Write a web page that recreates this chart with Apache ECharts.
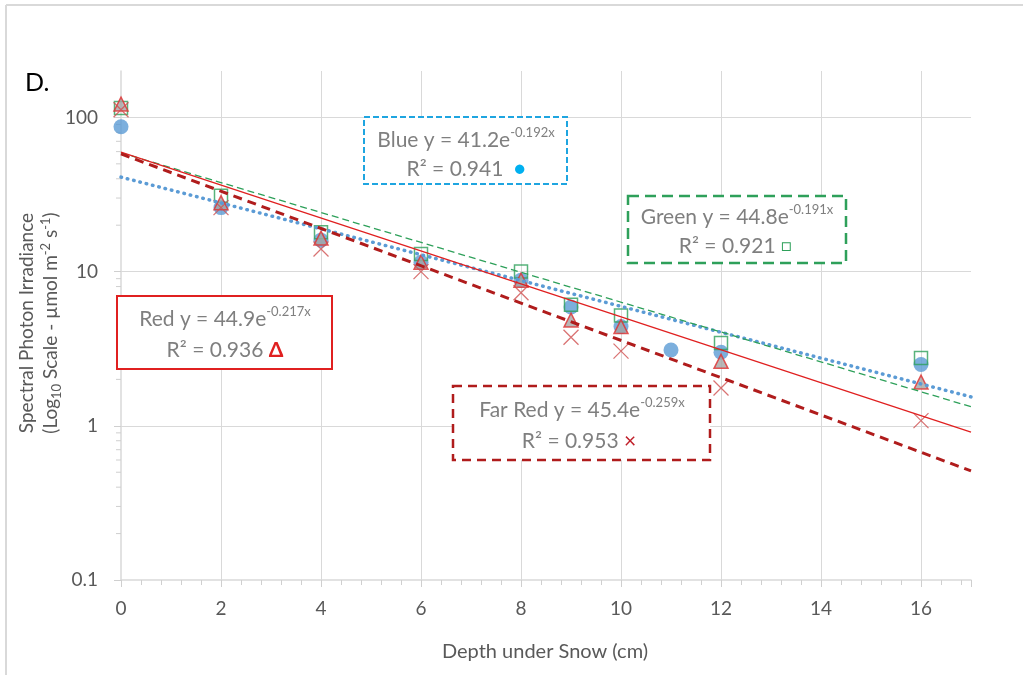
<!DOCTYPE html>
<html>
<head>
<meta charset="utf-8">
<script src="https://cdn.jsdelivr.net/npm/echarts@6/dist/echarts.min.js"></script>
<style>
  html, body { margin: 0; padding: 0; background: #fff; }
  #chart { width: 1023px; height: 675px; }
</style>
</head>
<body>
<div id="chart"></div>
<script>
// depth under snow (cm)
const depthBlue = [0, 2, 4, 6, 8, 9, 10, 11, 12, 16];
const blueVals = [87, 26, 16, 11.5, 8.8, 5.9, 4.4, 3.1, 3.0, 2.5];

const depth = [0, 2, 4, 6, 8, 9, 10, 12, 16];
const greenVals = [115, 31, 18, 13, 10, 6.1, 5.2, 3.45, 2.75];
const redVals = [122, 28, 16.5, 11.5, 8.8, 4.85, 4.4, 2.62, 1.92];
const farRedVals = [112, 26, 14, 10, 7.3, 3.75, 3.05, 1.76, 1.08];

// trendline end points as drawn
const blueTrend = [[0, 41], [17, 1.54]];
const greenTrend = [[0, 59], [17, 1.33]];
const redTrend = [[0, 59.5], [17, 0.91]];
const farRedTrend = [[0, 58], [17, 0.51]];

const yMinorTicks = [0.2, 0.3, 0.4, 0.5, 0.6, 0.7, 0.8, 0.9,
  2, 3, 4, 5, 6, 7, 8, 9, 20, 30, 40, 50, 60, 70, 80, 90];

const FONT = 'Lato, "Open Sans", sans-serif';
const GRAY = '#595959';
const GRID = '#d9d9d9';

const pairs = (xs, ys) => xs.map((x, i) => [x, ys[i]]);

const chart = echarts.init(document.getElementById('chart'));

const supRich = {
  n: { fontSize: 21, fill: '#7f7f7f', fontFamily: FONT, lineHeight: 28 },
  sup: { fontSize: 13, fill: '#7f7f7f', fontFamily: FONT, lineHeight: 13, verticalAlign: 'top' },
  dotB: { fontSize: 19, fill: '#00b0f0', fontFamily: FONT, lineHeight: 28 },
  sqG: { fontSize: 17, fill: '#2ea05a', fontFamily: FONT, lineHeight: 28 },
  triR: { fontSize: 21, fill: '#e02020', fontFamily: FONT, fontWeight: 'bold', lineHeight: 28 },
  xR: { fontSize: 21, fill: '#c0202a', fontFamily: FONT, lineHeight: 28 },
};

function label(x, y, text) {
  return {
    type: 'text', x: x, y: y, z: 10,
    style: { text: text, rich: supRich, align: 'center', verticalAlign: 'middle' },
  };
}

function box(x, y, w, h, color, width, dash) {
  return {
    type: 'rect', z: 9,
    shape: { x: x, y: y, width: w, height: h },
    style: { fill: '#fff', stroke: color, lineWidth: width, lineDash: dash },
  };
}

chart.setOption({
  animation: false,
  textStyle: { fontFamily: FONT },
  grid: { left: 121, right: 52, top: 71, bottom: 95 },
  xAxis: {
    type: 'value',
    min: 0,
    max: 17,
    interval: 2,
    axisLine: { lineStyle: { color: GRID, width: 1.5 } },
    axisTick: { length: 7, lineStyle: { color: '#cfcfcf' } },
    minorTick: { show: true, splitNumber: 5, length: 5, lineStyle: { color: '#cfcfcf' } },
    splitLine: { show: true, showMinLine: false, showMaxLine: false, lineStyle: { color: GRID } },
    axisLabel: { color: GRAY, fontSize: 19, margin: 19, showMaxLabel: false },
  },
  yAxis: {
    type: 'log',
    logBase: 10,
    min: 0.1,
    max: 200,
    axisLine: { show: true, lineStyle: { color: GRID, width: 1.5 } },
    axisTick: { show: true, length: 7, lineStyle: { color: '#cfcfcf' } },
    splitLine: { show: true, showMinLine: false, showMaxLine: false, lineStyle: { color: GRID } },
    axisLabel: { color: GRAY, fontSize: 19, margin: 23, showMaxLabel: false },
  },
  graphic: [
    // panel frame
    { type: 'line', shape: { x1: 6, y1: 5, x2: 1023, y2: 5 }, style: { stroke: GRID, lineWidth: 2 } },
    { type: 'line', shape: { x1: 6, y1: 5, x2: 6, y2: 675 }, style: { stroke: GRID, lineWidth: 2 } },
    { type: 'text', x: 25, y: 83, style: { text: 'D.', fontSize: 25, fill: '#000', fontFamily: FONT, verticalAlign: 'middle' } },
    {
      type: 'text', x: 545, y: 652,
      style: { text: 'Depth under Snow (cm)', fontSize: 20, fill: GRAY, fontFamily: FONT, align: 'center', verticalAlign: 'middle' },
    },
    {
      type: 'text', x: 27, y: 323, rotation: Math.PI / 2,
      style: { text: 'Spectral Photon Irradiance', fontSize: 19, fill: GRAY, fontFamily: FONT, align: 'center', verticalAlign: 'middle' },
    },
    {
      type: 'text', x: 51, y: 323, rotation: Math.PI / 2,
      style: {
        text: '{n|(Log}{sub|10}{n| Scale - µmol m}{sup|-2}{n| s}{sup|-1}{n|)}',
        align: 'center', verticalAlign: 'middle',
        rich: {
          n: { fontSize: 19, fill: GRAY, fontFamily: FONT, lineHeight: 24 },
          sub: { fontSize: 13, fill: GRAY, fontFamily: FONT, lineHeight: 13, verticalAlign: 'bottom' },
          sup: { fontSize: 13, fill: GRAY, fontFamily: FONT, lineHeight: 13, verticalAlign: 'top' },
        },
      },
    },
    box(364, 117, 203, 67, '#1fa5e0', 2, [6, 3]),
    label(466, 140, '{n|Blue y = 41.2e}{sup|-0.192x}'),
    label(466, 169, '{n|R² = 0.941  }{dotB|●}'),
    box(628, 196, 218, 67, '#2ea05a', 2.5, [11, 6]),
    label(737, 217, '{n|Green y = 44.8e}{sup|-0.191x}'),
    label(735, 246, '{n|R² = 0.921 }{sqG|□}'),
    box(117, 296, 215, 73, '#e02020', 2, null),
    label(225, 319, '{n|Red y = 44.9e}{sup|-0.217x}'),
    label(225, 350, '{n|R² = 0.936 }{triR|Δ}'),
    box(453, 386, 257, 74, '#b01c1c', 2.5, [9, 6]),
    label(582, 410, '{n|Far Red y = 45.4e}{sup|-0.259x}'),
    label(579, 441, '{n|R² = 0.953 }{xR|×}'),
  ],
  series: [
    {
      type: 'custom',
      silent: true,
      clip: false,
      data: yMinorTicks.map((v) => [0, v]),
      renderItem: (params, api) => {
        const p = api.coord([0, api.value(1)]);
        return {
          type: 'line',
          shape: { x1: p[0] - 5, y1: p[1], x2: p[0], y2: p[1] },
          style: { stroke: '#cfcfcf', lineWidth: 1 },
        };
      },
    },
    {
      name: 'Blue',
      type: 'scatter',
      data: pairs(depthBlue, blueVals),
      symbol: 'circle',
      symbolSize: 15,
      itemStyle: { color: '#5b9bd5' },
      z: 3,
    },
    {
      name: 'Green',
      type: 'scatter',
      data: pairs(depth, greenVals),
      symbol: 'rect',
      symbolSize: 13,
      itemStyle: { color: 'rgba(255,255,255,0)', borderColor: '#2ea05a', borderWidth: 1.5 },
      z: 4,
    },
    {
      name: 'Red',
      type: 'scatter',
      data: pairs(depth, redVals),
      symbol: 'triangle',
      symbolSize: [14, 14],
      itemStyle: { color: '#a5a5a5', borderColor: '#e03030', borderWidth: 1.5 },
      z: 5,
    },
    {
      name: 'Far Red',
      type: 'scatter',
      data: pairs(depth, farRedVals),
      symbol: 'path://M0,0L10,10M10,0L0,10',
      symbolSize: 15,
      itemStyle: { color: 'none', borderColor: '#d05050', borderWidth: 1.3 },
      z: 6,
    },
    {
      name: 'Blue trend',
      type: 'line',
      data: blueTrend,
      showSymbol: false,
      lineStyle: { color: '#5b9bd5', width: 3.5, type: [0.5, 6], cap: 'round' },
      z: 7,
    },
    {
      name: 'Green trend',
      type: 'line',
      data: greenTrend,
      showSymbol: false,
      lineStyle: { color: '#2ea05a', width: 1.3, type: [7, 4] },
      z: 7,
    },
    {
      name: 'Red trend',
      type: 'line',
      data: redTrend,
      showSymbol: false,
      lineStyle: { color: '#e02020', width: 1.3 },
      z: 7,
    },
    {
      name: 'Far Red trend',
      type: 'line',
      data: farRedTrend,
      showSymbol: false,
      lineStyle: { color: '#b01c1c', width: 3, type: [9, 6] },
      z: 7,
    },
  ],
});
</script>
</body>
</html>
